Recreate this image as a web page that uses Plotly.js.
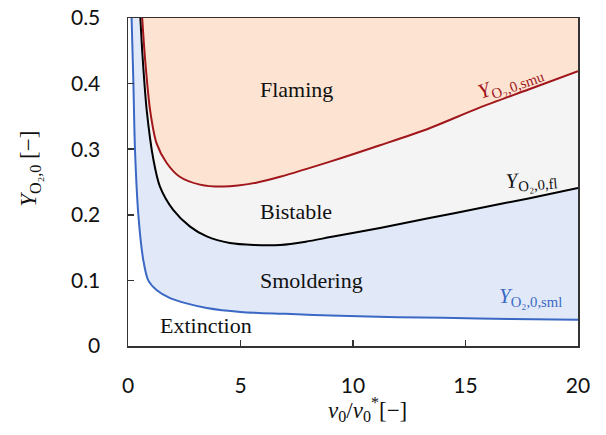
<!DOCTYPE html>
<html>
<head>
<meta charset="utf-8">
<script src="https://cdn.plot.ly/plotly-3.0.1.min.js"></script>
<style>html,body{margin:0;padding:0;background:#fff;}#chart{width:606px;height:435px;}</style>
</head>
<body>
<div id="chart"></div>
<script>
// Y_O2,0,sml (smoldering lower limit, blue)
const smlX = [0.16, 0.24, 0.31, 0.46, 0.68, 0.9, 1.28, 1.87, 2.6, 3.5, 5, 7, 9.4, 12, 14, 17, 20];
const smlY = [0.5, 0.4, 0.3, 0.2, 0.131, 0.1, 0.085, 0.073, 0.065, 0.058, 0.052, 0.049, 0.046, 0.044, 0.043, 0.041, 0.040];
// Y_O2,0,fl (flaming limit, black)
const flX = [0.55, 0.65, 0.83, 1.13, 1.42, 2.0, 2.76, 3.5, 4.53, 5.6, 6.76, 7.9, 9.0, 11.2, 13.4, 15.6, 17.8, 20];
const flY = [0.5, 0.44, 0.36, 0.284, 0.243, 0.208, 0.182, 0.167, 0.157, 0.154, 0.154, 0.159, 0.166, 0.180, 0.195, 0.210, 0.225, 0.241];
// Y_O2,0,smu (smoldering upper limit, red)
const smuX = [0.63, 0.76, 0.98, 1.27, 1.72, 2.3, 3.2, 4.24, 5.7, 6.76, 8.98, 11.2, 13.4, 15.6, 17.8, 20];
const smuY = [0.5, 0.437, 0.36, 0.309, 0.279, 0.258, 0.246, 0.243, 0.249, 0.258, 0.281, 0.306, 0.332, 0.363, 0.391, 0.419];

const xTicks = [0, 5, 10, 15, 20];
const yTicks = [0, 0.1, 0.2, 0.3, 0.4, 0.5];
const XMAX = 20, YMAX = 0.5;

const serif = "Liberation Serif, DejaVu Serif, serif";
const sans = "Lato, Open Sans, sans-serif";

function region(xs, ys, color) {
  return {x: xs.concat([XMAX]), y: ys.concat([YMAX]), type: 'scatter', mode: 'lines',
    fill: 'toself', fillcolor: color, line: {width: 0}, hoverinfo: 'skip', showlegend: false};
}
function curve(xs, ys, color) {
  return {x: xs, y: ys, type: 'scatter', mode: 'lines', line: {color: color, width: 2, shape: 'spline', smoothing: 0.8},
    hoverinfo: 'skip', showlegend: false};
}

const data = [
  region(smlX, smlY, '#e1e9f9'),
  region(flX, flY, '#f4f4f4'),
  region(smuX, smuY, '#fde4d2'),
  curve(smlX, smlY, '#3a68c4'),
  curve(flX, flY, '#000000'),
  curve(smuX, smuY, '#a0161a')
];

const ann = (x, y, text, opts) => Object.assign({x: x, y: y, xref: 'x', yref: 'y', text: text, showarrow: false,
  font: {family: serif, size: 22, color: '#111'}}, opts || {});

const layout = {
  width: 606, height: 435,
  margin: {l: 128, r: 28, t: 18, b: 89},
  paper_bgcolor: '#fff', plot_bgcolor: '#fff',
  xaxis: {range: [0, XMAX], tickvals: xTicks, ticktext: xTicks.map(String), ticks: 'inside', ticklen: 6,
    tickcolor: '#333', tickwidth: 1.5, showgrid: false, zeroline: false, showline: true, mirror: true,
    linecolor: '#333', linewidth: 1.5, ticklabelstandoff: 20,
    tickfont: {family: sans, size: 21, color: '#111'}},
  yaxis: {range: [0, YMAX], tickvals: yTicks, ticktext: yTicks.map(String), ticks: 'inside', ticklen: 6,
    tickcolor: '#333', tickwidth: 1.5, showgrid: false, zeroline: false, showline: true, mirror: true,
    linecolor: '#333', linewidth: 1.5, ticklabelstandoff: 22,
    tickfont: {family: sans, size: 21, color: '#111'}},
  annotations: [
    ann(5.78, 0.391, 'Flaming', {xanchor: 'left'}),
    ann(5.78, 0.205, 'Bistable', {xanchor: 'left'}),
    ann(5.78, 0.100, 'Smoldering', {xanchor: 'left'}),
    ann(1.33, 0.032, 'Extinction', {xanchor: 'left'}),
    ann(17.0, 0.402, '<i>Y</i><sub>O₂,0,smu</sub>', {textangle: -20, font: {family: serif, size: 21, color: '#a0161a'}}),
    ann(17.95, 0.253, '<i>Y</i><sub>O₂,0,fl</sub>', {textangle: -5, font: {family: serif, size: 21, color: '#111'}}),
    ann(17.9, 0.074, '<i>Y</i><sub>O₂,0,sml</sub>', {font: {family: serif, size: 21, color: '#3a68c4'}}),
    {xref: 'paper', yref: 'paper', x: 0.533, y: -0.195, xanchor: 'center', yanchor: 'middle', showarrow: false,
      text: '<i>v</i><sub>0</sub>/<i>v</i><sub>0</sub><sup>*</sup>[−]', font: {family: serif, size: 23, color: '#111'}},
    {xref: 'paper', yref: 'paper', x: -0.218, y: 0.54, xanchor: 'center', yanchor: 'middle', showarrow: false, textangle: -90,
      text: '<i>Y</i><sub>O₂,0</sub> [−]', font: {family: serif, size: 23, color: '#111'}}
  ]
};

Plotly.newPlot('chart', data, layout, {staticPlot: true, displayModeBar: false});
</script>
</body>
</html>
